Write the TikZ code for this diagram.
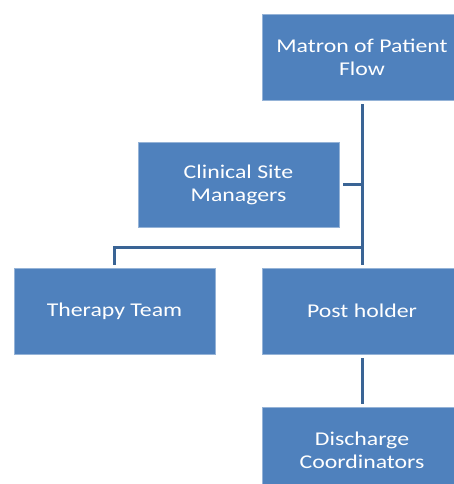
\documentclass[tikz,border=0pt]{standalone}
\usepackage{fontspec}
\setmainfont{Carlito}[FakeStretch=1.22]
\definecolor{boxblue}{HTML}{4F81BD}
\definecolor{linkblue}{HTML}{3A6495}
\begin{document}
\begin{tikzpicture}[x=1pt,y=-1pt,
  orgbox/.style={rectangle,fill=boxblue,draw=boxblue!60!white,line width=0.7pt,
    text=white,align=center,minimum width=200pt,minimum height=86pt,inner sep=2pt,
    font=\fontsize{19.5}{23}\selectfont},
  link/.style={draw=linkblue,line width=3pt}]
\useasboundingbox[fill=white] (0,0) rectangle (454,484);
\node[orgbox] (m) at (362,57) {Matron of Patient\\Flow};
\node[orgbox,minimum width=201pt,minimum height=85pt] (c) at (238.5,184.5) {Clinical Site\\Managers};
\node[orgbox,minimum width=201pt] (t) at (114.5,311) {Therapy Team};
\node[orgbox] (p) at (362,311) {Post holder};
\node[orgbox] (d) at (362,450) {Discharge\\Coordinators};
\coordinate (j) at (362,247);
\draw[link] ([yshift=-4pt]m.south) -- ([yshift=3pt]p.north);
\draw[link] ([xshift=4pt]c.east) -- (c.east -| m.south);
\draw[link] ([yshift=3pt]t.north) -- (t.north |- j) -- (j);
\draw[link] ([yshift=-4pt]p.south) -- ([yshift=3pt]d.north);
\end{tikzpicture}
\end{document}
